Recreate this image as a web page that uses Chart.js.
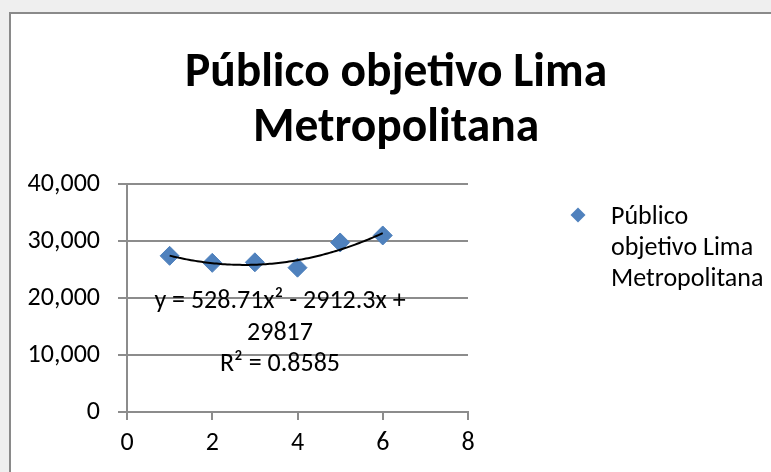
<!DOCTYPE html>
<html>
<head>
<meta charset="utf-8">
<script src="https://cdn.jsdelivr.net/npm/chart.js@4/dist/chart.umd.min.js"></script>
<style>
  html, body { margin: 0; padding: 0; background: #fff; }
  canvas { display: block; }
</style>
</head>
<body>
<canvas id="chart" width="771" height="472"></canvas>
<script>
// Chart content
const chartTitle = ['Público objetivo Lima', 'Metropolitana'];
const seriesName = ['Público', 'objetivo Lima', 'Metropolitana'];
const xValues = [1, 2, 3, 4, 5, 6];
const publicoObjetivo = [27400, 26170, 26260, 25320, 29740, 30970];
const xTickValues = [0, 2, 4, 6, 8];
const yTickValues = [0, 10000, 20000, 30000, 40000];
// Polynomial (order 2) trendline: y = a*x^2 + b*x + c
const trendCoef = [528.71, -2912.3, 29817];
const trendLabel = ['y = 528.71x² - 2912.3x +', '29817', 'R² = 0.8585'];

const FONT = 'Calibri, Carlito, Lato, sans-serif';
const BLUE = '#4F81BD';
const GRID = '#8c8c8c';

const points = xValues.map((x, i) => ({ x: x, y: publicoObjetivo[i] }));

const trendPoints = [];
const x0 = xValues[0], x1 = xValues[xValues.length - 1];
for (let k = 0; k <= 100; k++) {
  const x = x0 + (x1 - x0) * k / 100;
  trendPoints.push({ x: x, y: trendCoef[0] * x * x + trendCoef[1] * x + trendCoef[2] });
}

function diamond(ctx, x, y, r, color) {
  ctx.beginPath();
  ctx.moveTo(x - r, y);
  ctx.lineTo(x, y - r);
  ctx.lineTo(x + r, y);
  ctx.lineTo(x, y + r);
  ctx.closePath();
  ctx.fillStyle = color;
  ctx.fill();
}

// Frame, title, legend and trendline equation
const decorations = {
  id: 'decorations',
  beforeDraw(chart) {
    const ctx = chart.ctx;
    ctx.save();
    ctx.fillStyle = '#efefef';
    ctx.fillRect(0, 0, chart.width, chart.height);
    ctx.fillStyle = '#ffffff';
    ctx.fillRect(10, 13, chart.width, chart.height);
    ctx.strokeStyle = '#8a8a8a';
    ctx.lineWidth = 2;
    ctx.strokeRect(10, 13, chart.width + 20, chart.height + 20);
    ctx.restore();
  },
  afterDatasetsDraw(chart) {
    const ctx = chart.ctx;
    ctx.save();
    ctx.fillStyle = '#000';

    // title
    ctx.font = 'bold 47.5px ' + FONT;
    ctx.textAlign = 'center';
    ctx.textBaseline = 'alphabetic';
    ctx.fillText(chartTitle[0], 396, 86);
    ctx.fillText(chartTitle[1], 396, 141);

    // trendline equation
    ctx.font = '26px ' + FONT;
    trendLabel.forEach((t, i) => ctx.fillText(t, 280, 308 + i * 31.5));

    // legend
    diamond(ctx, 578, 215, 7.5, BLUE);
    ctx.fillStyle = '#000';
    ctx.textAlign = 'left';
    seriesName.forEach((t, i) => ctx.fillText(t, 611, 224 + i * 31));
    ctx.restore();
  }
};

new Chart(document.getElementById('chart'), {
  type: 'scatter',
  data: {
    datasets: [
      {
        label: 'Polinómica',
        data: trendPoints,
        showLine: true,
        borderColor: '#000',
        borderWidth: 2,
        pointRadius: 0,
        pointHoverRadius: 0,
        fill: false,
        order: 0
      },
      {
        label: seriesName.join(' '),
        data: points,
        pointStyle: 'rectRot',
        pointRadius: 9.5,
        pointHoverRadius: 9.5,
        backgroundColor: BLUE,
        borderColor: BLUE,
        borderWidth: 1,
        order: 1
      }
    ]
  },
  options: {
    responsive: false,
    animation: false,
    devicePixelRatio: 1,
    layout: { padding: { left: 0, top: 184, right: 303, bottom: 0 } },
    plugins: {
      legend: { display: false },
      title: { display: false },
      tooltip: { enabled: false }
    },
    scales: {
      x: {
        type: 'linear',
        min: 0,
        max: 8,
        afterBuildTicks: s => { s.ticks = xTickValues.map(v => ({ value: v })); },
        afterFit: s => { s.height = 60; },
        ticks: { color: '#000', font: { family: FONT, size: 26 }, padding: 8, maxRotation: 0 },
        grid: { drawOnChartArea: false, tickLength: 8, color: GRID, lineWidth: 2 },
        border: { color: GRID, width: 2 }
      },
      y: {
        min: 0,
        max: 40000,
        afterBuildTicks: s => { s.ticks = yTickValues.map(v => ({ value: v })); },
        afterFit: s => { s.width = 127; },
        ticks: {
          color: '#000',
          font: { family: FONT, size: 26 },
          padding: 18,
          callback: v => v.toLocaleString('en-US')
        },
        grid: { color: GRID, lineWidth: 2, tickLength: 9 },
        border: { color: GRID, width: 2 }
      }
    }
  },
  plugins: [decorations]
});
</script>
</body>
</html>
